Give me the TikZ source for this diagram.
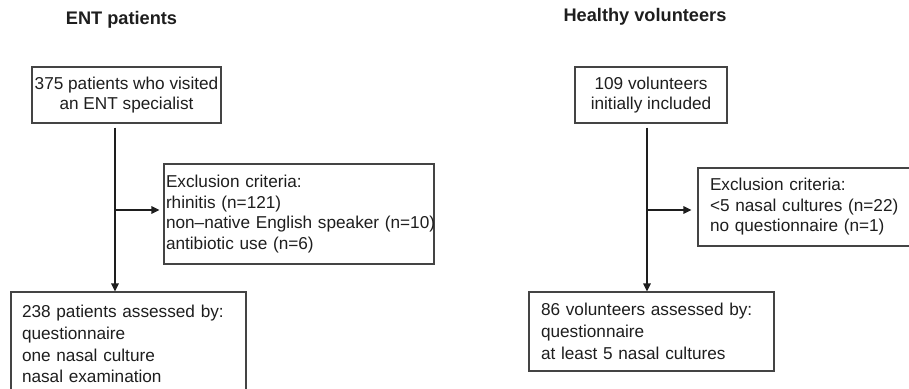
\documentclass[tikz,border=0pt]{standalone}
\usepackage{fontspec}
\setmainfont{Liberation Sans}
\usetikzlibrary{arrows.meta}
\definecolor{ink}{HTML}{1E1E1E}
\definecolor{edge}{HTML}{444444}
\tikzset{
  box/.style={draw=edge, line width=1.1pt, text=ink, inner sep=0pt, rectangle},
  ctrbox/.style={box, align=center, font=\fontsize{17.2}{20.8}\selectfont},
  lbox/.style={box, align=left, font=\fontsize{17.2}{20.5}\selectfont},
  bbox/.style={box, align=left, font=\fontsize{17.2}{21.8}\selectfont},
  ttl/.style={text=ink, font=\bfseries\fontsize{18.2}{22}\selectfont, inner sep=0pt},
  conn/.style={draw=ink, line width=1.1pt},
  arr/.style={conn, -{Triangle[length=8pt,width=7.5pt]}}
}
\begin{document}
\begin{tikzpicture}[x=1pt,y=-1pt]
\useasboundingbox (0,0) rectangle (909,388);
\clip (0,0) rectangle (909,388);
\fill[white] (0,0) rectangle (909,388);

% titles
\node[ttl] (t1) at (121.5,20) {ENT patients};
\node[ttl] (t2) at (645,17) {Healthy volunteers};

% left column
\node[ctrbox, minimum width=189pt, minimum height=56pt] (a) at (126.5,95)
  {375 patients who visited\\an ENT specialist};
\node[lbox, text width=266pt, inner xsep=2pt, minimum height=100pt] (ex1) at (299,214)
  {\mbox{Exclusion criteria:}\\\mbox{rhinitis (n=121)}\\\mbox{non–native English speaker (n=10)}\\\mbox{antibiotic use (n=6)}};
\node[bbox, text width=213pt, inner xsep=11pt, minimum height=104pt] (b) at (128.5,344)
  {\mbox{238 patients assessed by:}\\\mbox{questionnaire}\\\mbox{one nasal culture}\\\mbox{nasal examination}};

\coordinate (j1) at (115,210);
\draw[arr] (a.south -| j1) ++(0,4) -- (b.north -| j1);
\draw[arr] (j1) -- ([xshift=-4pt]ex1.west |- j1);

% right column
\node[ctrbox, minimum width=152pt, minimum height=56pt] (c) at (651,95)
  {109 volunteers\\initially included};
\node[lbox, text width=203pt, inner xsep=12pt, minimum height=78pt] (ex2) at (811.5,207)
  {\mbox{Exclusion criteria:}\\\mbox{<5 nasal cultures (n=22)}\\\mbox{no questionnaire (n=1)}};
\node[bbox, text width=221pt, inner xsep=12pt, minimum height=79pt] (d) at (651.5,331.5)
  {\mbox{86 volunteers assessed by:}\\\mbox{questionnaire}\\\mbox{at least 5 nasal cultures}};

\coordinate (j2) at (647,210);
\draw[arr] (c.south -| j2) ++(0,4) -- (d.north -| j2);
\draw[arr] (j2) -- ([xshift=-6pt]ex2.west |- j2);
\end{tikzpicture}
\end{document}
